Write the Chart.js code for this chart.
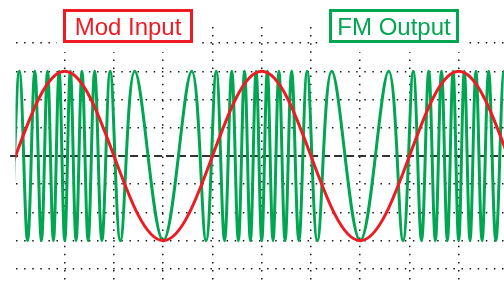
<!DOCTYPE html>
<html>
<head>
<meta charset="utf-8">
<script src="https://cdn.jsdelivr.net/npm/chart.js@4.4.0/dist/chart.umd.min.js"></script>
<style>
  html, body { margin: 0; padding: 0; background: #fff; }
  canvas { display: block; }
</style>
</head>
<body>
<canvas id="fmChart" width="504" height="282"></canvas>
<script>
// x is in grid divisions (one period of the modulating wave = 4 divisions),
// y is in vertical divisions (both waves swing 3 divisions either side)
var seriesNames = ['Mod Input', 'FM Output'];
var seriesColors = ['#ED1C24', '#00A651'];

// modulating sine: crests / troughs
// (one extra on each side so the clipped ends keep their shape)
var modX = [-3, -1, 1, 3, 5, 7, 9, 11, 13];
var modY = [3, -3, 3, -3, 3, -3, 3, -3, 3];

// FM output: position of every crest and trough
var fmX = [
  -1.000, -0.421, -0.130, 0.077, 0.245, 0.392, 0.526, 0.651, 0.770, 0.886, 1.000,
  1.114, 1.230, 1.350, 1.475, 1.608, 1.755, 1.923, 2.130, 2.421, 3.000,
  3.579, 3.870, 4.077, 4.245, 4.392, 4.526, 4.651, 4.770, 4.886, 5.000,
  5.114, 5.230, 5.350, 5.475, 5.608, 5.755, 5.923, 6.130, 6.421, 7.000,
  7.579, 7.870, 8.077, 8.245, 8.392, 8.526, 8.651, 8.770, 8.886, 9.000,
  9.114, 9.230, 9.350, 9.475, 9.608, 9.755, 9.923, 10.130, 10.421
];
var fmY = [
  -3, 3, -3, 3, -3, 3, -3, 3, -3, 3, -3,
  3, -3, 3, -3, 3, -3, 3, -3, 3, -3,
  3, -3, 3, -3, 3, -3, 3, -3, 3, -3,
  3, -3, 3, -3, 3, -3, 3, -3, 3, -3,
  3, -3, 3, -3, 3, -3, 3, -3, 3, -3,
  3, -3, 3, -3, 3, -3, 3, -3, 3
];

// zero reference line
var zeroX = [-0.11, 9.92];
var zeroY = [0, 0];

// axis ranges and dotted grid positions
var xMin = 0, xMax = 9.92;
var yMin = -4.43, yMax = 4.57;
var xGrid = [1, 2, 3, 4, 5, 6, 7, 8, 9];
var yGrid = [-4, -3, -2, -1, 1, 2, 3, 4];

function toPoints(xs, ys) {
    return xs.map(function(x, i){ return {x: x, y: ys[i]}; });
}

// boxed captions above the plot
var captionBoxes = {
    id: 'captionBoxes',
    afterDraw: function(chart) {
        var c = chart.ctx;
        var centers = [128, 394];
        var w = 130, h = 34, top = 9;
        c.save();
        for (var i = 0; i < seriesNames.length; i++) {
            var left = centers[i] - w / 2;
            c.fillStyle = '#fff';
            c.fillRect(left - 6, top, w + 12, h + 9);
            c.strokeStyle = seriesColors[i];
            c.lineWidth = 3;
            c.strokeRect(left + 1.5, top + 1.5, w - 3, h - 3);
            c.fillStyle = seriesColors[i];
            c.font = '24px "Liberation Sans", Arial, sans-serif';
            c.textAlign = 'center';
            c.textBaseline = 'alphabetic';
            c.fillText(seriesNames[i], centers[i], 35);
        }
        c.restore();
    }
};

var dottedScale = function(ticksArr, min, max) {
    return {
        type: 'linear',
        min: min,
        max: max,
        grid: { color: '#1a1a1a', lineWidth: 1.5, drawTicks: false },
        border: { display: false, dash: [1.5, 6.6] },
        ticks: { display: false },
        afterBuildTicks: function(scale) {
            scale.ticks = ticksArr.map(function(v){ return {value: v}; });
        }
    };
};

var ctx = document.getElementById('fmChart').getContext('2d');
var fmChart = new Chart(ctx, {
    type: 'line',
    data: {
        datasets: [{
            label: seriesNames[0],
            data: toPoints(modX, modY),
            borderColor: seriesColors[0],
            borderWidth: 3,
            tension: 0.364,
            clip: 0,
            order: 0
        }, {
            label: seriesNames[1],
            data: toPoints(fmX, fmY),
            borderColor: seriesColors[1],
            borderWidth: 3,
            tension: 0.364,
            clip: 0,
            order: 1
        }, {
            label: 'zero',
            data: toPoints(zeroX, zeroY),
            borderColor: '#333',
            borderWidth: 2,
            borderDash: [8, 4],
            tension: 0,
            clip: false,
            order: 2
        }]
    },
    options: {
        responsive: false,
        devicePixelRatio: 1,
        animation: false,
        layout: { padding: { left: 15.5, right: 0, top: 27, bottom: 1 } },
        elements: {
            point: { radius: 0 },
            line: { capBezierPoints: false }
        },
        plugins: {
            legend: { display: false },
            tooltip: { enabled: false }
        },
        scales: {
            x: dottedScale(xGrid, xMin, xMax),
            y: dottedScale(yGrid, yMin, yMax)
        }
    },
    plugins: [captionBoxes]
});
</script>
</body>
</html>
